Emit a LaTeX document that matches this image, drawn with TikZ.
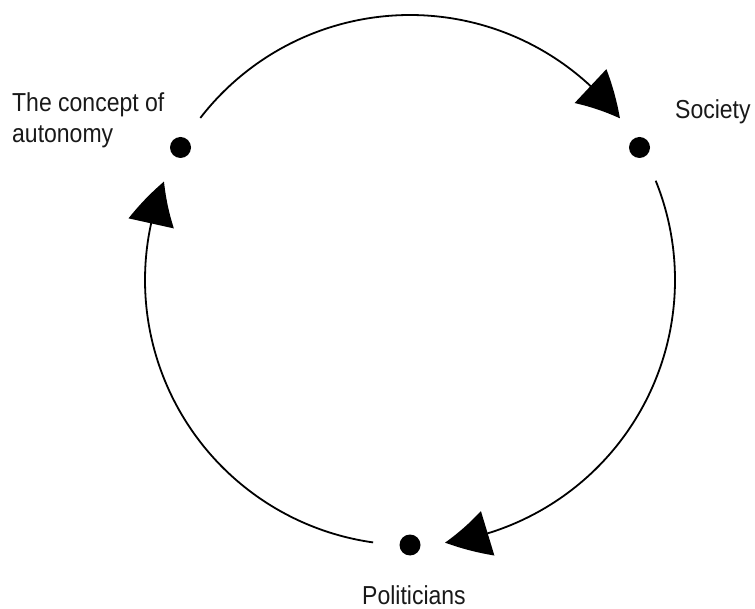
\documentclass[tikz,border=0pt]{standalone}
\usepackage{fontspec}
\setmainfont{Liberation Sans}
\usetikzlibrary{arrows.meta,bending}
\tikzset{
  dot/.style={circle, fill=black, inner sep=0pt, minimum size=21pt},
  cycarc/.style={line width=1.8pt, black, -{Triangle[length=44pt,width=46pt,bend]}},
  lbl/.style={font=\fontsize{26}{31}\selectfont, text=black!90, inner sep=0pt, xscale=0.885, transform shape, anchor=base west, align=left}
}
\begin{document}
\begin{tikzpicture}[x=1pt,y=1pt]
\useasboundingbox (0,0) rectangle (755,608);
\coordinate (c) at (410,328);
\node[dot] (autonomy) at ([shift={(150:265)}]c) {};
\node[dot] (society) at ([shift={(30:265)}]c) {};
\node[dot] (politicians) at ([shift={(270:265)}]c) {};
\coordinate (s1) at ([shift={(142.3:265)}]c);
\coordinate (s2) at ([shift={(22:265)}]c);
\coordinate (s3) at ([shift={(262:265)}]c);
\draw[cycarc] (s1) arc[start angle=142.3, end angle=37.6, radius=265];
\draw[cycarc] (s2) arc[start angle=22, end angle=-82.4, radius=265];
\draw[cycarc] (s3) arc[start angle=262, end angle=158.2, radius=265];
\node[lbl] (tconcept) at (12,465) {The concept of\\autonomy};
\node[lbl] (tsociety) at (675,489) {Society};
\node[lbl] (tpoliticians) at (362,4) {Politicians};
\end{tikzpicture}
\end{document}
